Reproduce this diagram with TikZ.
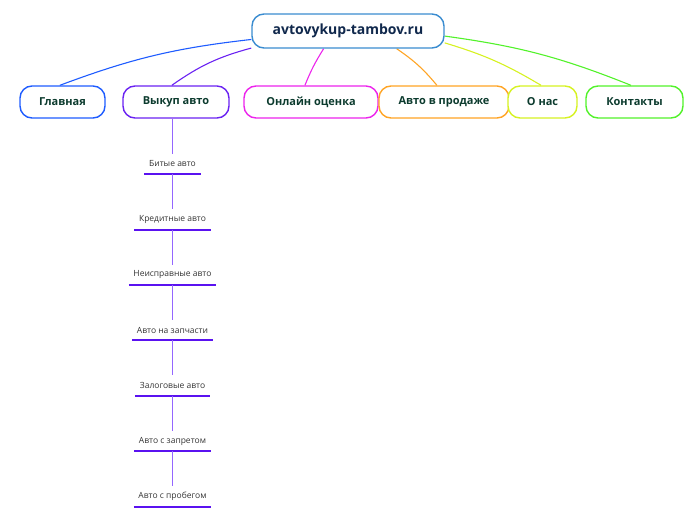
\documentclass[tikz,border=0pt]{standalone}
\usepackage{fontspec}
\setmainfont{Open Sans}
\usetikzlibrary{positioning, backgrounds}
\definecolor{rootblue}{HTML}{3A8CD0}
\definecolor{rootink}{HTML}{10284C}
\definecolor{topicink}{HTML}{0C3B2E}
\definecolor{glavblue}{HTML}{1E5CFF}
\definecolor{vykuppurple}{HTML}{6A22F2}
\definecolor{onlmagenta}{HTML}{EC24EC}
\definecolor{prodorange}{HTML}{FFA424}
\definecolor{onaslime}{HTML}{D6F222}
\definecolor{kontgreen}{HTML}{52F22A}
\definecolor{kidink}{HTML}{333333}
\definecolor{kidline}{HTML}{5A12F0}
\definecolor{stemline}{HTML}{9466FF}

\begin{document}
\begin{tikzpicture}[x=1pt, y=-1pt,
  root/.style={rectangle, draw=rootblue, line width=1.4pt, rounded corners=12pt,
               fill=white, text=rootink, minimum width=192pt, minimum height=34pt,
               font=\fontsize{14}{16}\selectfont\bfseries},
  topic/.style={rectangle, line width=1.4pt, rounded corners=12pt, fill=white,
                text=topicink, minimum height=32pt,
                font=\fontsize{11}{13}\selectfont\bfseries},
  kid/.style={inner xsep=4.5pt, inner ysep=0pt, minimum height=20pt, text=kidink,
              font=\fontsize{8.5}{10}\selectfont,
              append after command={(\tikzlastnode.south west) edge[draw=kidline, line width=2pt] (\tikzlastnode.south east)}},
  link/.style={line width=1.1pt},
  stem/.style={draw=stemline, line width=0.8pt},
  node distance=35pt
]
\useasboundingbox (0,0) rectangle (696,520);

\node[root] (root) at (348,31) {avtovykup-tambov.ru};

\node[topic, draw=glavblue, minimum width=85pt] (glav) at (62.5,102) {Главная};
\node[topic, draw=vykuppurple, minimum width=106pt] (vykup) at (176,102) {Выкуп авто};
\node[topic, draw=onlmagenta, minimum width=134pt] (onl) at (311,102) {Онлайн оценка};
\node[topic, draw=prodorange, minimum width=130pt] (prod) at (444,102) {Авто в продаже};
\node[topic, draw=onaslime, minimum width=69pt] (onas) at (542.5,102) {О нас};
\node[topic, draw=kontgreen, minimum width=97pt] (kont) at (634.5,102) {Контакты};

\node[kid] (k1) at (172.5,164) {Битые авто};
\node[kid, below=of k1] (k2) {Кредитные авто};
\node[kid, below=of k2] (k3) {Неисправные авто};
\node[kid, below=of k3] (k4) {Авто на запчасти};
\node[kid, below=of k4] (k5) {Залоговые авто};
\node[kid, below=of k5] (k6) {Авто с запретом};
\node[kid, below=of k6] (k7) {Авто с пробегом};

\begin{scope}[on background layer]
\draw[link, glavblue] (root.185) to[bend right=7] (glav.99);
\draw[link, vykuppurple] (root.190) to[bend right=10] (vykup.104);
\draw[link, onlmagenta] (root.216) to[bend right=5] (onl.110);
\draw[link, prodorange] (root.-20) to[bend left=8] (prod.113);
\draw[link, onaslime] (root.-7) to[bend left=7] (onas.95);
\draw[link, kontgreen] (root.-3) to[bend left=7] (kont.102);
\end{scope}

\draw[stem] (vykup.south -| k1) -- (k1);
\draw[stem] (k1) -- (k2);
\draw[stem] (k2) -- (k3);
\draw[stem] (k3) -- (k4);
\draw[stem] (k4) -- (k5);
\draw[stem] (k5) -- (k6);
\draw[stem] (k6) -- (k7);
\end{tikzpicture}
\end{document}
